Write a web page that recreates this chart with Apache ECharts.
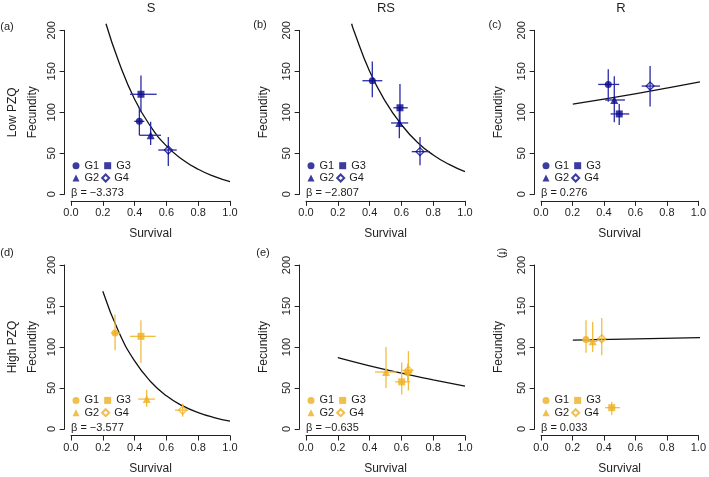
<!DOCTYPE html>
<html>
<head>
<meta charset="utf-8">
<script src="https://cdn.jsdelivr.net/npm/echarts@6/dist/echarts.min.js"></script>
<style>
html,body{margin:0;padding:0;background:#fff;}
#chart{width:709px;height:477px;}
</style>
</head>
<body>
<div id="chart"></div>
<script>
// ---------- data (order G1, G2, G3, G4) ----------
const groups = ['G1', 'G2', 'G3', 'G4'];
const columnTitles = ['S', 'RS', 'R'];
const rowTitles = ['Low PZQ', 'High PZQ'];
const panelLetters = ['(a)', '(b)', '(c)', '(d)', '(e)', '(f)'];
const betaLabels = ['β = −3.373', 'β = −2.807', 'β = 0.276', 'β = −3.577', 'β = −0.635', 'β = 0.033'];
const xTicks = [0, 0.2, 0.4, 0.6, 0.8, 1.0];
const yTicks = [0, 50, 100, 150, 200];

// panel (a) S, Low PZQ
const aSurv = [0.430, 0.501, 0.440, 0.612];
const aFec = [89, 72, 122, 54];
const aSurvLo = [0.398, 0.430, 0.371, 0.549];
const aSurvHi = [0.461, 0.566, 0.539, 0.665];
const aFecLo = [72, 60, 100, 34.5];
const aFecHi = [106, 88.5, 145, 70];
const aCurveX = [0.22, 0.3, 0.4, 0.5, 0.6, 0.7, 0.8, 0.9, 1.0];
const aCurveY = [208, 162, 116, 83, 59, 42.5, 30.5, 21.8, 15.4];

// panel (b) RS, Low PZQ
const bSurv = [0.417, 0.587, 0.591, 0.717];
const bFec = [138.5, 87, 105.5, 52];
const bSurvLo = [0.355, 0.535, 0.549, 0.665];
const bSurvHi = [0.480, 0.643, 0.640, 0.780];
const bFecLo = [118.5, 68.5, 86.5, 35.5];
const bFecHi = [162, 105, 134.5, 70];
const bCurveX = [0.287, 0.3, 0.4, 0.5, 0.6, 0.7, 0.8, 0.9, 1.0];
const bCurveY = [208, 200, 150, 113, 85, 63.5, 48, 36.5, 27.6];

// panel (c) R, Low PZQ
const cSurv = [0.423, 0.461, 0.492, 0.686];
const cFec = [134, 115, 98, 132];
const cSurvLo = [0.360, 0.403, 0.438, 0.633];
const cSurvHi = [0.492, 0.528, 0.555, 0.748];
const cFecLo = [113, 88, 84.5, 107];
const cFecHi = [152.5, 144, 110, 156.5];
const cCurveX = [0.2, 0.6, 1.0];
const cCurveY = [110, 122.8, 137];

// panel (d) S, High PZQ
const dSurv = [0.277, 0.476, 0.440, 0.702];
const dFec = [117, 36.5, 113, 23];
const dSurvLo = [0.252, 0.423, 0.371, 0.654];
const dSurvHi = [0.308, 0.528, 0.533, 0.738];
const dFecLo = [96, 27, 80.5, 15];
const dFecHi = [139.5, 48, 132.5, 31];
const dCurveX = [0.2, 0.3, 0.4, 0.5, 0.6, 0.7, 0.8, 0.9, 1.0];
const dCurveY = [168, 118.5, 83, 58, 40.5, 28.5, 20, 14, 9.7];

// panel (e) RS, High PZQ
const eSurv = [0.640, 0.503, 0.602, 0.644];
const eFec = [69, 69.5, 57.5, 71.5];
const eSurvLo = [0.612, 0.434, 0.560, 0.608];
const eSurvHi = [0.668, 0.570, 0.654, 0.675];
const eFecLo = [58, 50, 42, 47];
const eFecHi = [80, 100, 81, 95];
const eCurveX = [0.2, 0.4, 0.6, 0.8, 1.0];
const eCurveY = [87, 77, 68, 60, 52.4];

// panel (f) R, High PZQ
const fSurv = [0.283, 0.325, 0.445, 0.382];
const fFec = [109, 107, 26, 110];
const fSurvLo = [0.260, 0.295, 0.403, 0.350];
const fSurvHi = [0.310, 0.355, 0.497, 0.410];
const fFecLo = [93, 94, 17, 90];
const fFecHi = [132.5, 130.5, 33, 135.5];
const fCurveX = [0.2, 1.0];
const fCurveY = [108.5, 111.5];

const panelData = [
  [aSurv, aFec, aSurvLo, aSurvHi, aFecLo, aFecHi, aCurveX, aCurveY],
  [bSurv, bFec, bSurvLo, bSurvHi, bFecLo, bFecHi, bCurveX, bCurveY],
  [cSurv, cFec, cSurvLo, cSurvHi, cFecLo, cFecHi, cCurveX, cCurveY],
  [dSurv, dFec, dSurvLo, dSurvHi, dFecLo, dFecHi, dCurveX, dCurveY],
  [eSurv, eFec, eSurvLo, eSurvHi, eFecLo, eFecHi, eCurveX, eCurveY],
  [fSurv, fFec, fSurvLo, fSurvHi, fFecLo, fFecHi, fCurveX, fCurveY]
];

// ---------- styling / layout ----------
const rowColors = [
  { marker: '#0a0a88', bar: '#2a2aaa' },
  { marker: '#EFAE1F', bar: '#F3BC42' }
];
const symbols = ['circle', 'triangle', 'rect', 'diamond'];
const symbolSizes = [7, 8, 7, 8];
const colX0 = [71, 306, 541];
const rowY0 = [194.3, 429];
const spanX = 159, spanY = 164;
const padX = 0.04 * spanX, padY = 0.04 * spanY;
const TXT = '#1e1e1e';
const FONT = 'Liberation Sans, Arial, Helvetica, sans-serif';

const grid = [], xAxis = [], yAxis = [], series = [], legend = [], graphic = [];

panelData.forEach((pd, i) => {
  const col = i % 3, row = Math.floor(i / 3);
  const L = String.fromCharCode(97 + i);
  const x0 = colX0[col], y0 = rowY0[row];
  const colors = rowColors[row];
  const [surv, fec, sLo, sHi, fLo, fHi, cx, cy] = pd;
  const g = grid.length;
  // g: data grid (plot region incl. 4% padding)
  grid.push({ left: x0 - padX, top: y0 - spanY - padY, width: spanX * 1.08, height: spanY * 1.08 });
  // g+1: x-axis grid, bottom edge at the axis line
  grid.push({ left: x0, top: y0 + padY - 20, width: spanX, height: 20 });
  // g+2: y-axis grid, left edge at the axis line
  grid.push({ left: x0 - padX, top: y0 - spanY, width: 20, height: spanY });

  xAxis.push({ type: 'value', gridIndex: g, min: -0.04, max: 1.04, show: false });
  yAxis.push({ type: 'value', gridIndex: g, min: -8, max: 208, show: false });

  xAxis.push({
    type: 'value', gridIndex: g + 1, position: 'bottom',
    min: xTicks[0], max: xTicks[xTicks.length - 1], interval: 0.2,
    axisLine: { show: true, lineStyle: { color: '#222', width: 1 } },
    axisTick: { show: true, length: 5, lineStyle: { color: '#222' } },
    axisLabel: { fontSize: 11, color: TXT, margin: 7, fontFamily: FONT, formatter: v => v.toFixed(1) },
    splitLine: { show: false },
    name: 'Survival', nameLocation: 'middle', nameGap: 27,
    nameTextStyle: { fontSize: 12, color: TXT, fontFamily: FONT }
  });
  yAxis.push({ type: 'value', gridIndex: g + 1, min: 0, max: 1, show: false });

  xAxis.push({ type: 'value', gridIndex: g + 2, min: 0, max: 1, show: false });
  yAxis.push({
    type: 'value', gridIndex: g + 2, position: 'left',
    min: yTicks[0], max: yTicks[yTicks.length - 1], interval: 50,
    axisLine: { show: true, lineStyle: { color: '#222', width: 1 } },
    axisTick: { show: true, length: 5, lineStyle: { color: '#222' } },
    axisLabel: { fontSize: 11, color: TXT, margin: 7, rotate: 90, fontFamily: FONT },
    splitLine: { show: false },
    name: col === 0 ? rowTitles[row] + '\nFecundity' : 'Fecundity',
    nameLocation: 'middle', nameRotate: 90, nameGap: col === 0 ? 22 : 26,
    nameTextStyle: { fontSize: 12, color: TXT, lineHeight: 20, fontFamily: FONT }
  });

  // fitted curve
  series.push({
    type: 'line', xAxisIndex: g, yAxisIndex: g, smooth: true, clip: true,
    showSymbol: false, silent: true,
    lineStyle: { color: '#111', width: 1.3 },
    data: cx.map((x, k) => [x, cy[k]]), z: 3
  });
  // error bars
  series.push({
    type: 'custom', xAxisIndex: g, yAxisIndex: g, silent: true, z: 4,
    data: surv.map((s, k) => [s, fec[k], sLo[k], sHi[k], fLo[k], fHi[k]]),
    encode: { x: 0, y: 1 },
    renderItem: (params, api) => {
      const x = api.value(0), y = api.value(1);
      const p1 = api.coord([api.value(2), y]), p2 = api.coord([api.value(3), y]);
      const p3 = api.coord([x, api.value(4)]), p4 = api.coord([x, api.value(5)]);
      const style = { stroke: colors.bar, lineWidth: 1.3 };
      return { type: 'group', children: [
        { type: 'line', shape: { x1: p1[0], y1: p1[1], x2: p2[0], y2: p2[1] }, style },
        { type: 'line', shape: { x1: p3[0], y1: p3[1], x2: p4[0], y2: p4[1] }, style }
      ] };
    }
  });
  // group markers
  groups.forEach((gr, k) => {
    const hollow = k === 3;
    series.push({
      type: 'scatter', name: L + '-' + gr, xAxisIndex: g, yAxisIndex: g, z: 5,
      symbol: symbols[k], symbolSize: symbolSizes[k],
      itemStyle: hollow
        ? { color: 'rgba(255,255,255,0)', borderColor: colors.marker, borderWidth: 1.3 }
        : { color: colors.marker },
      data: [[surv[k], fec[k]]]
    });
  });

  // legends (two rows)
  const common = {
    orient: 'horizontal', left: x0 + 1.5, padding: 0, itemWidth: 7, itemHeight: 7,
    selectedMode: false, formatter: n => n.split('-')[1],
    textStyle: { fontSize: 11, color: TXT, lineHeight: 12, fontFamily: FONT, padding: [0, 0, 0, 0] }
  };
  legend.push(Object.assign({}, common, { top: y0 - 34.6, itemGap: 5, data: [L + '-G1', L + '-G3'] }));
  legend.push(Object.assign({}, common, { top: y0 - 22.3, itemGap: 2, data: [L + '-G2', L + '-G4'] }));

  // beta text
  graphic.push({ type: 'text', x: x0, y: y0 - 1.5,
    style: { text: betaLabels[i], font: '11px ' + FONT, fill: TXT, align: 'left', verticalAlign: 'middle' } });
});

// column titles
columnTitles.forEach((t, c) => {
  graphic.push({ type: 'text', x: colX0[c] + 80, y: 8,
    style: { text: t, font: '13px ' + FONT, fill: TXT, align: 'center', verticalAlign: 'middle' } });
});
// panel letters
const letterPos = [[7, 27], [260, 25], [495, 25], [7, 253], [263, 253], [502, 253]];
panelLetters.forEach((t, i) => {
  graphic.push({ type: 'text', x: letterPos[i][0], y: letterPos[i][1], rotation: i === 5 ? -Math.PI / 2 : 0,
    style: { text: t, font: '11px ' + FONT, fill: TXT, align: 'center', verticalAlign: 'middle' } });
});

const chart = echarts.init(document.getElementById('chart'), null, { renderer: 'canvas' });
chart.setOption({
  backgroundColor: '#fff',
  animation: false,
  textStyle: { fontFamily: FONT },
  grid, xAxis, yAxis, series, legend, graphic
});
</script>
</body>
</html>
